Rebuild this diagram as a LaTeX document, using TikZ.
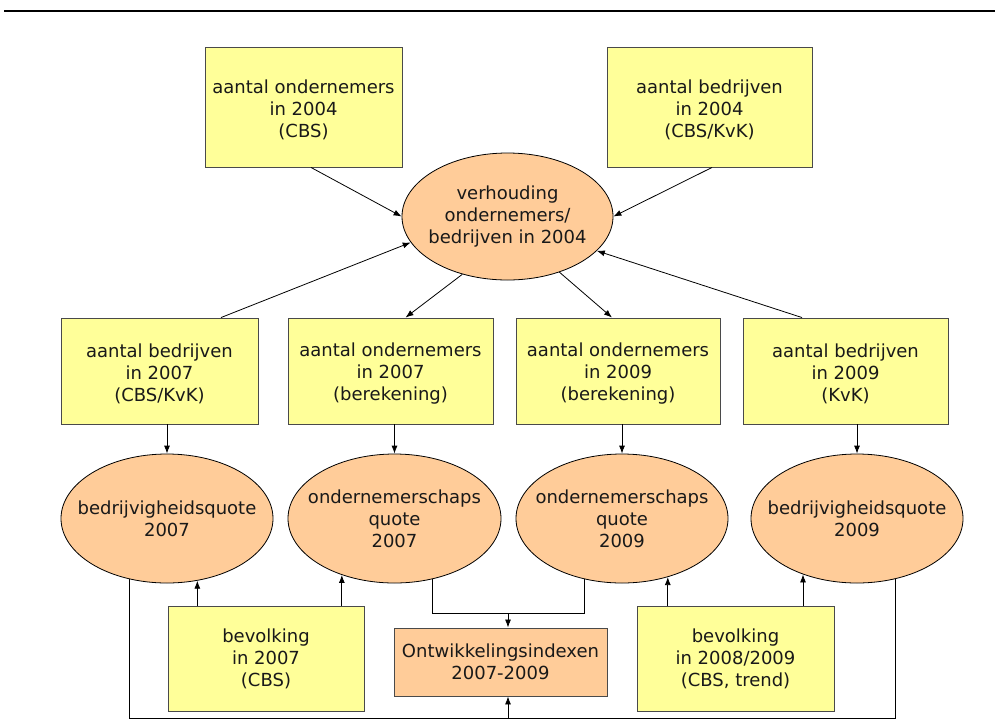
\documentclass[tikz,border=0pt]{standalone}
\usepackage{fontspec}
\setmainfont{DejaVu Sans}
\usetikzlibrary{shapes.geometric,arrows.meta,calc}
\definecolor{boxyellow}{HTML}{FFFF99}
\definecolor{boxorange}{HTML}{FFCC99}
\definecolor{boxedge}{HTML}{4A4A4A}
\begin{document}
\begin{tikzpicture}[x=1pt,y=-1pt,
  txt/.style={align=center, inner sep=0pt, text=black!90, font=\fontsize{18}{22}\selectfont},
  yb/.style={txt, rectangle, draw=boxedge, fill=boxyellow, line width=0.9pt},
  ob/.style={txt, rectangle, draw=boxedge, fill=boxorange, line width=0.9pt},
  oe/.style={ellipse, draw=black, fill=boxorange, line width=0.8pt, inner sep=0pt},
  conn/.style={line width=0.8pt, draw=black},
  arr/.style={conn, -{Latex[length=8pt,width=6pt]}}]
\useasboundingbox (0,0) rectangle (995,724);
\draw[line width=1.4pt] (4,11) coordinate (tl) -- (995,11) coordinate (tr);

% top row
\node[yb, minimum width=197pt, minimum height=120pt] (A) at (303.5,107) {};
\node[yb, minimum width=205pt, minimum height=120pt] (B) at (709.5,107) {};
\node[txt] (At) at ($(A.center)+(0,2.5)$) {aantal ondernemers\\in 2004\\(CBS)};
\node[txt] (Bt) at ($(B.center)+(0,2.5)$) {aantal bedrijven\\in 2004\\(CBS/KvK)};
\node[oe, minimum width=211pt, minimum height=127pt] (V) at (507.5,216.5) {};
\node[txt] (Vt) at (V.center) {verhouding\\ondernemers/\\bedrijven in 2004};

% second row
\node[yb, minimum width=197pt, minimum height=106pt] (B1) at (159.5,371) {};
\node[yb, minimum width=205pt, minimum height=106pt] (B2) at (390.5,371) {};
\node[yb, minimum width=204pt, minimum height=106pt] (B3) at (618,371) {};
\node[yb, minimum width=205pt, minimum height=106pt] (B4) at (845.5,371) {};
\node[txt] (B1t) at ($(B1.center)+(0,3)$) {aantal bedrijven\\in 2007\\(CBS/KvK)};
\node[txt] (B2t) at ($(B2.center)+(0,3)$) {aantal ondernemers\\in 2007\\(berekening)};
\node[txt] (B3t) at ($(B3.center)+(0,3)$) {aantal ondernemers\\in 2009\\(berekening)};
\node[txt] (B4t) at ($(B4.center)+(0,3)$) {aantal bedrijven\\in 2009\\(KvK)};

% third row
\node[oe, minimum width=212pt, minimum height=129pt] (E1) at (167,518.5) {};
\node[oe, minimum width=213pt, minimum height=129pt] (E2) at (394.5,518.5) {};
\node[oe, minimum width=212pt, minimum height=129pt] (E3) at (622,518.5) {};
\node[oe, minimum width=212pt, minimum height=129pt] (E4) at (857,518.5) {};
\node[txt] (E1t) at (E1.center) {bedrijvigheidsquote\\2007};
\node[txt] (E2t) at (E2.center) {ondernemerschaps\\quote\\2007};
\node[txt] (E3t) at (E3.center) {ondernemerschaps\\quote\\2009};
\node[txt] (E4t) at (E4.center) {bedrijvigheidsquote\\2009};

% bottom row
\node[yb, minimum width=196pt, minimum height=105pt] (P1) at (266,658.5) {bevolking\\in 2007\\(CBS)};
\node[ob, minimum width=213pt, minimum height=68pt] (O) at (500.5,662) {Ontwikkelingsindexen\\2007-2009};
\node[yb, minimum width=197pt, minimum height=105pt] (P2) at (735.5,658.5) {bevolking\\in 2008/2009\\(CBS, trend)};

% connectors top
\draw[arr] ($(A.south)+(7.5,0)$) -- (V.west);
\draw[arr] ($(B.south)+(2.5,0)$) -- (V.east);
\draw[arr] ($(B1.north)+(61.5,0)$) -- (V.195);
\draw[arr] ($(B4.north)+(-43.5,0)$) -- (V.339);
\draw[arr] (V.232) -- ($(B2.north)+(15,0)$);
\draw[arr] (V.313) -- ($(B3.north)+(-6,0)$);

% boxes to quotes
\foreach \i in {1,2,3,4} {
  \draw[arr] (E\i.north |- B\i.south) -- (E\i.north);
}

% population to quotes
\draw[arr] (E1.296 |- P1.north) -- (E1.296);
\draw[arr] (E2.227 |- P1.north) -- (E2.227);
\draw[arr] (E3.308 |- P2.north) -- (E3.308);
\draw[arr] (E4.226 |- P2.north) -- (E4.226);

% quotes to indices
\coordinate (jn) at (508,613);
\coordinate (bus) at (508,718);
\draw[conn] (E2.302) |- (jn) -| (E3.238);
\draw[arr] (jn) -- (jn |- O.north);
\draw[conn] (E1.238) -- (E1.238 |- bus) -- (E4.302 |- bus) -- (E4.302);
\draw[arr] (bus) -- (bus |- O.south);
\end{tikzpicture}
\end{document}
